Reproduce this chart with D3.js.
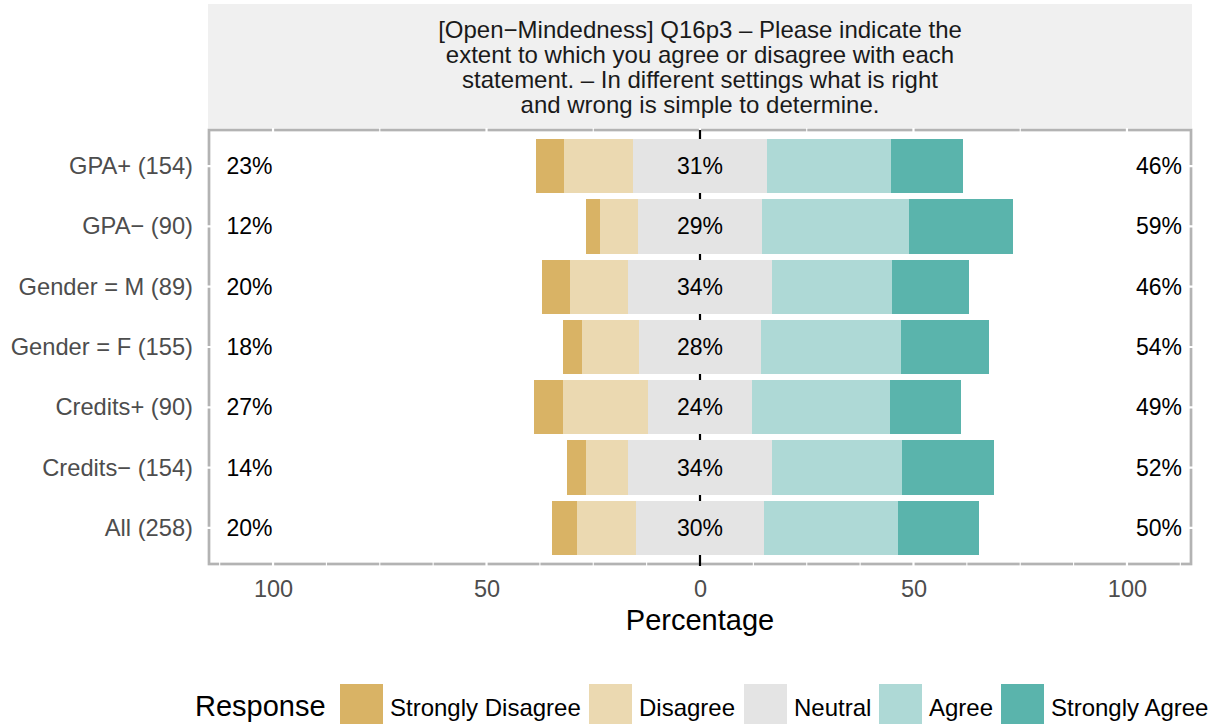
<!DOCTYPE html>
<head>
<meta charset="utf-8">
<style>
  body { margin:0; background:#fff; }
  svg { display:block; }
  text { font-family: "Liberation Sans", Arial, sans-serif; }
</style>
<script src="https://d3js.org/d3.v7.min.js"></script>
</head>
<body>
<script>

var width = 1218;
var height = 724;

// groups, top to bottom
var groups = ["GPA+ (154)", "GPA\u2212 (90)", "Gender = M (89)", "Gender = F (155)",
              "Credits+ (90)", "Credits\u2212 (154)", "All (258)"];
var levels = ["Strongly Disagree", "Disagree", "Neutral", "Agree", "Strongly Agree"];
var colors = ["#d9b365", "#ebd9b1", "#e4e4e4", "#aed9d6", "#5ab4ac"];

// percent per response level, same order as levels
var stronglyDisagree = [6.5, 3.3, 6.7, 4.5, 6.7, 4.5, 5.8];
var disagree         = [16.2, 8.9, 13.5, 13.5, 20.0, 9.7, 14.0];
var neutral          = [31.2, 28.9, 33.7, 28.4, 24.4, 33.8, 29.8];
var agree            = [29.2, 34.4, 28.1, 32.9, 32.2, 30.5, 31.4];
var stronglyAgree    = [16.9, 24.4, 18.0, 20.6, 16.7, 21.4, 19.0];

var xTicks = [-100, -50, 0, 50, 100];
var title = ["[Open\u2212Mindedness] Q16p3 \u2013 Please indicate the",
             "extent to which you agree or disagree with each",
             "statement. \u2013 In different settings what is right",
             "and wrong is simple to determine."];

var panel = {left: 209, right: 1191, top: 130, bottom: 564};

var x = d3.scaleLinear().domain([-115, 115]).range([panel.left, panel.right]);
var y = d3.scalePoint().domain(groups).range([panel.top, panel.bottom]).padding(0.6);
var barH = y.step() * 0.9;

var svg = d3.select("body").append("svg")
    .attr("width", width).attr("height", height);

// strip
svg.append("rect")
    .attr("x", panel.left - 1).attr("y", 4)
    .attr("width", panel.right - panel.left + 2).attr("height", panel.top - 6)
    .attr("fill", "#f0f0f0");
svg.append("g").selectAll("text")
    .data(title).enter().append("text")
    .attr("x", x(0)).attr("y", function(d, i) { return 38 + i * 25; })
    .attr("text-anchor", "middle")
    .attr("font-size", 24).attr("fill", "#1a1a1a")
    .text(function(d) { return d; });

// border
svg.append("rect")
    .attr("x", panel.left).attr("y", panel.top)
    .attr("width", panel.right - panel.left).attr("height", panel.bottom - panel.top)
    .attr("fill", "#fff").attr("stroke", "#b3b3b3").attr("stroke-width", 2.7);

// white grid lines (show only where they cut the border)
var grid = svg.append("g");
d3.range(-100, 101, 25).forEach(function(v) {
    grid.append("line")
        .attr("x1", x(v)).attr("x2", x(v))
        .attr("y1", panel.top - 2).attr("y2", panel.bottom + 2)
        .attr("stroke", "#fff").attr("stroke-width", v % 50 === 0 ? 2.2 : 1.1);
});
d3.range(-112.5, 113, 25).forEach(function(v) {
    grid.append("line")
        .attr("x1", x(v)).attr("x2", x(v))
        .attr("y1", panel.bottom - 2).attr("y2", panel.bottom + 2)
        .attr("stroke", "#fff").attr("stroke-width", 1.1);
});
groups.forEach(function(g) {
    grid.append("line")
        .attr("x1", panel.left - 2).attr("x2", panel.right + 2)
        .attr("y1", y(g)).attr("y2", y(g))
        .attr("stroke", "#fff").attr("stroke-width", 2.2);
});

// zero line
svg.append("line")
    .attr("x1", x(0)).attr("x2", x(0))
    .attr("y1", panel.top).attr("y2", panel.bottom + 2)
    .attr("stroke", "#000").attr("stroke-width", 2.2);

// stacked bars: neutral centred on zero
var series = [stronglyDisagree, disagree, neutral, agree, stronglyAgree];
var rows = groups.map(function(g, i) {
    var vals = series.map(function(s) { return s[i]; });
    var start = -(vals[0] + vals[1] + vals[2] / 2);
    var segs = [];
    vals.forEach(function(v, k) {
        segs.push({g: g, k: k, x0: start, x1: start + v});
        start += v;
    });
    return {g: g, vals: vals, segs: segs};
});

svg.append("g").selectAll("g")
    .data(rows).enter().append("g")
    .selectAll("rect")
    .data(function(d) { return d.segs; }).enter().append("rect")
    .attr("x", function(d) { return x(d.x0); })
    .attr("width", function(d) { return x(d.x1) - x(d.x0); })
    .attr("y", function(d) { return y(d.g) - barH / 2; })
    .attr("height", barH)
    .attr("fill", function(d) { return colors[d.k]; })
    .attr("shape-rendering", "crispEdges");

// percent labels
var labels = svg.append("g").attr("font-size", 23).attr("fill", "#000");
rows.forEach(function(r) {
    var yy = y(r.g) + 8;
    labels.append("text").attr("x", x(-105.5)).attr("y", yy).attr("text-anchor", "middle")
        .text(Math.round(r.vals[0] + r.vals[1]) + "%");
    labels.append("text").attr("x", x(0)).attr("y", yy).attr("text-anchor", "middle")
        .text(Math.round(r.vals[2]) + "%");
    labels.append("text").attr("x", x(107.5)).attr("y", yy).attr("text-anchor", "middle")
        .text(Math.round(r.vals[3] + r.vals[4]) + "%");
});

// y axis labels
svg.append("g").selectAll("text")
    .data(groups).enter().append("text")
    .attr("x", 193).attr("y", function(d) { return y(d) + 8; })
    .attr("text-anchor", "end")
    .attr("font-size", 23.7).attr("fill", "#4d4d4d")
    .text(function(d) { return d; });

// x axis
var xAxis = svg.append("g")
    .attr("transform", "translate(0," + (panel.bottom + 2) + ")")
    .call(d3.axisBottom(x).tickValues(xTicks).tickSize(0).tickPadding(14)
        .tickFormat(function(d) { return Math.abs(d); }));
xAxis.select(".domain").remove();
xAxis.selectAll("text")
    .attr("font-size", 23.5).attr("fill", "#4d4d4d")
    .attr("font-family", "Liberation Sans, Arial, sans-serif");

svg.append("text")
    .attr("x", x(0)).attr("y", 630)
    .attr("text-anchor", "middle").attr("font-size", 29).attr("fill", "#000")
    .text("Percentage");

// legend
var legX = [340, 589, 744, 879, 1001];
svg.append("text")
    .attr("x", 195).attr("y", 716)
    .attr("font-size", 29).attr("fill", "#000")
    .text("Response");
var leg = svg.append("g").selectAll("g")
    .data(levels).enter().append("g")
    .attr("transform", function(d, i) { return "translate(" + legX[i] + ",684)"; });
leg.append("rect")
    .attr("width", 43).attr("height", 43)
    .attr("fill", function(d, i) { return colors[i]; });
leg.append("text")
    .attr("x", 50).attr("y", 32)
    .attr("font-size", 24).attr("fill", "#000")
    .text(function(d) { return d; });

</script>
</body>
